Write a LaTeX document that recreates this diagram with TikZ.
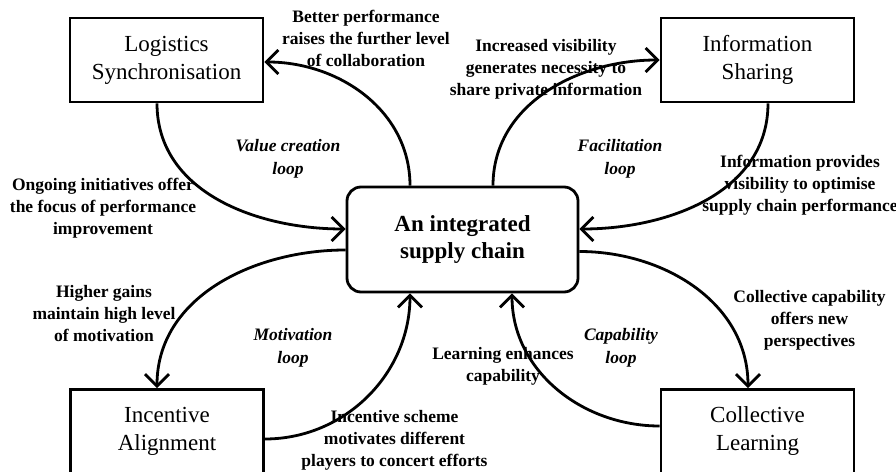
\documentclass[tikz,border=0pt]{standalone}
\usepackage{fontspec}
\setmainfont{Liberation Serif}
\usetikzlibrary{arrows.meta,calc}
\tikzset{arr/.style={line width=2.8pt, -{Straight Barb[length=12pt,width=24pt]}},
  blk/.style={draw, line width=2.8pt, minimum width=193pt, minimum height=84pt, align=center,
    font=\fontsize{23}{28}\selectfont},
  hub/.style={draw, line width=2.8pt, rounded corners=14pt, minimum width=231pt, minimum height=105pt,
    align=center, font=\fontsize{23}{27.5}\selectfont\bfseries},
  lbl/.style={align=center, font=\fontsize{17.5}{22}\selectfont\bfseries},
  looptxt/.style={align=center, font=\fontsize{17.5}{23}\selectfont\bfseries\itshape}}

\begin{document}
\begin{tikzpicture}[x=1pt,y=1pt]
  \useasboundingbox (0,0) rectangle (896,471);
  % the four practices and the hub
  \node[hub] (c) at (462.5,231.5) {An integrated\\supply chain};
  \node[blk] (ls) at (166.5,411) {Logistics\\Synchronisation};
  \node[blk] (is) at (757.5,411) {Information\\Sharing};
  \node[blk] (ia) at (167,39.5) {Incentive\\Alignment};
  \node[blk] (cl) at (757.5,39.5) {Collective\\Learning};
  % value creation loop
  \draw[arr] ($(ls.south)+(-9.5,0)$) to[out=-90,in=180] ($(c.west)+(0,10.5)$);
  \draw[arr] ($(c.north)+(-52.5,0)$) to[out=90,in=0] ($(ls.east)+(0,-2)$);
  \node[lbl] (ongo) at (103,262.5) {Ongoing initiatives offer\\the focus of performance\\improvement};
  \node[lbl] (better) at (366,432.5) {Better performance\\raises the further level\\of collaboration};
  \node[looptxt] (vloop) at (288,312.5) {Value creation\\loop};
  % facilitation loop
  \draw[arr] ($(c.north)+(30.5,0)$) to[out=90,in=180] (is.west);
  \draw[arr] ($(is.south)+(10.5,0)$) to[out=-90,in=0] ($(c.east)+(0,10.5)$);
  \node[lbl] (incr) at (546,401.5) {Increased visibility\\generates necessity to\\share private information};
  \node[lbl] (infop) at (800,286) {Information provides\\visibility to optimise\\supply chain performance};
  \node[looptxt] (floop) at (620,312.5) {Facilitation\\loop};
  % motivation loop
  \draw[arr] ($(c.west)+(0,-10.5)$) to[out=180,in=90] ($(ia.north)+(-10,0)$);
  \draw[arr] ($(ia.east)+(0,-7.5)$) to[out=0,in=-90] ($(c.south)+(-52.5,0)$);
  \node[lbl] (higher) at (104,157.5) {Higher gains\\maintain high level\\of motivation};
  \node[lbl] (scheme) at (394.5,31) {Incentive scheme\\motivates different\\players to concert efforts};
  \node[looptxt] (mloop) at (293,123.5) {Motivation\\loop};
  % capability loop
  \draw[arr] ($(c.east)+(0,-12)$) to[out=0,in=90] ($(cl.north)+(-9.5,0)$);
  \draw[arr] ($(cl.west)+(0,5.5)$) to[out=180,in=-90] ($(c.south)+(49.5,0)$);
  \node[lbl] (colcap) at (809.5,151) {Collective capability\\offers new\\perspectives};
  \node[lbl] (learn) at (503,105) {Learning enhances\\capability};
  \node[looptxt] (cloop) at (621,123.5) {Capability\\loop};
\end{tikzpicture}
\end{document}
